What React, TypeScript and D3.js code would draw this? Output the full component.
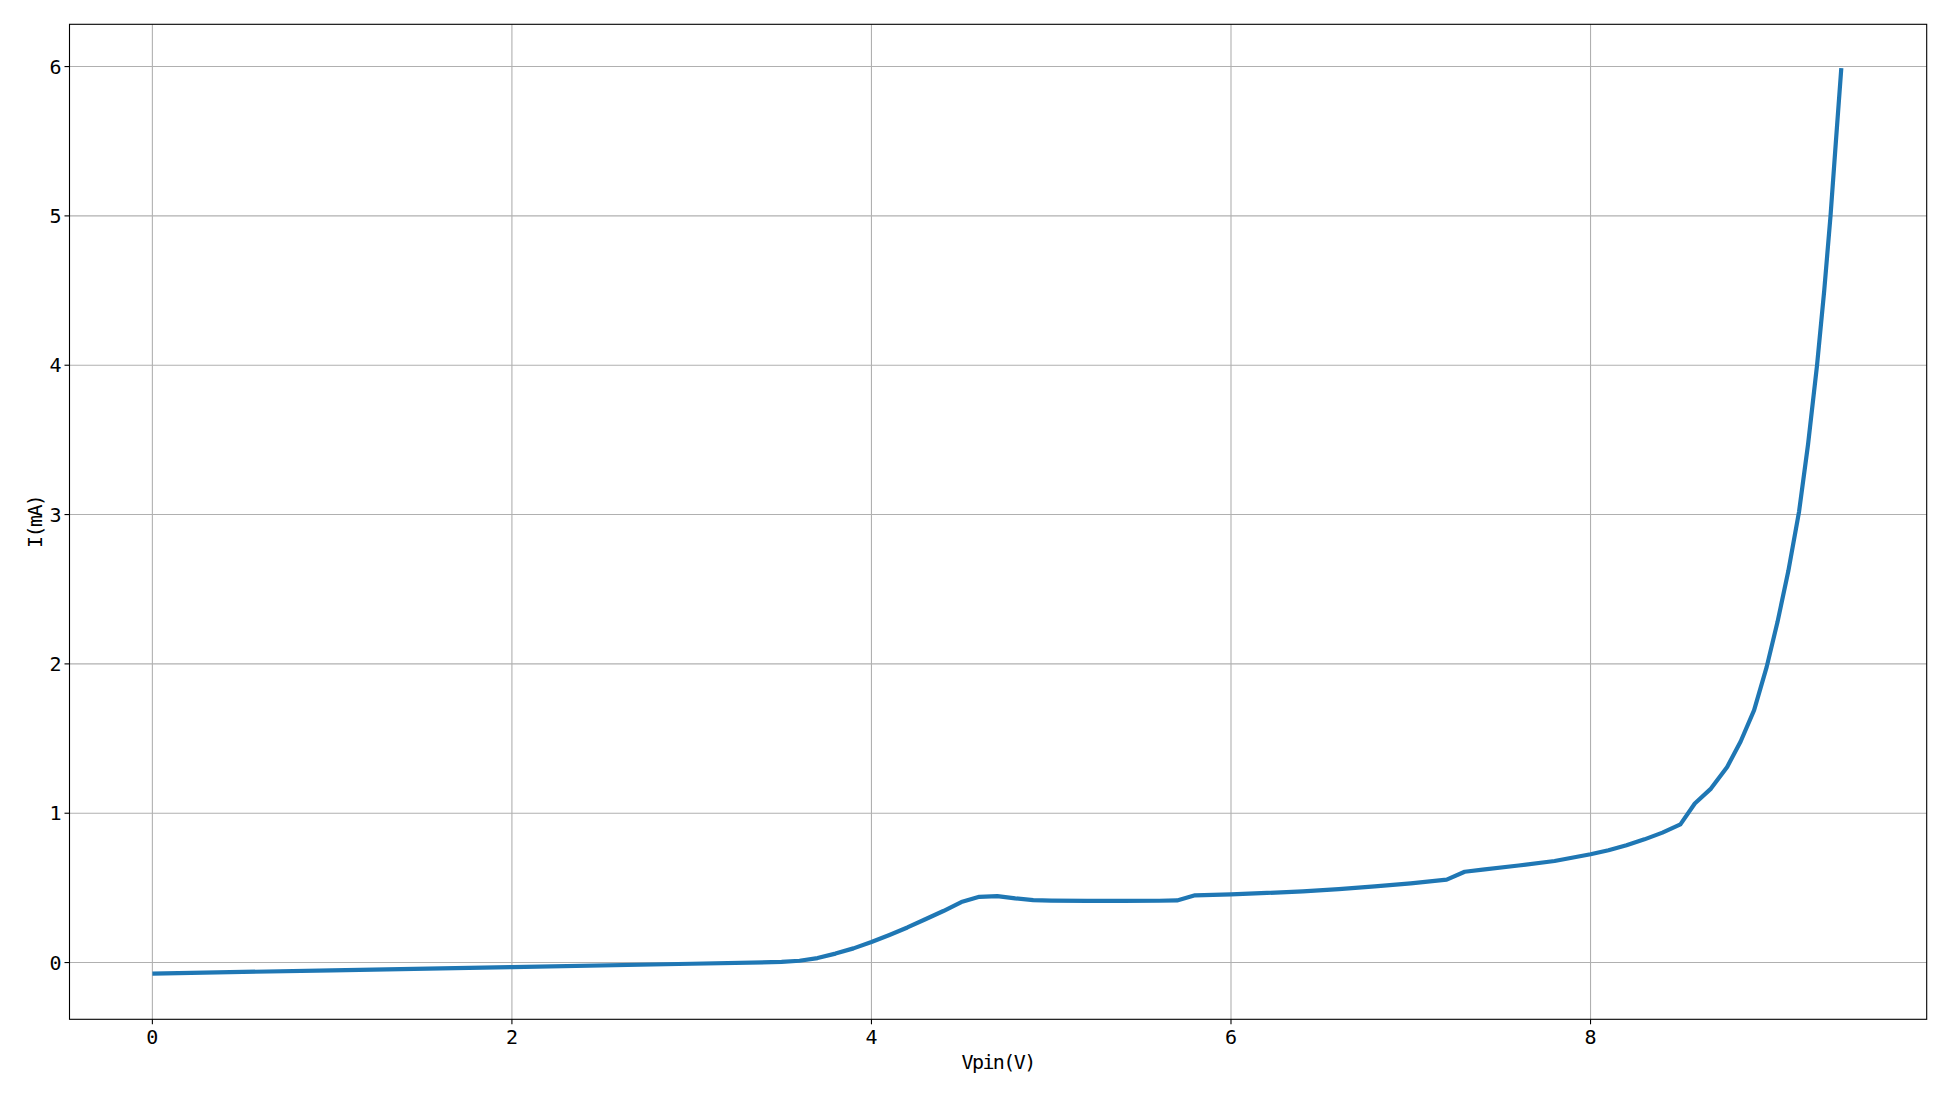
import React from "react";
import * as d3 from "d3";

const vpin: number[] = [
  0, 1, 2, 3, 3.5, 3.6, 3.7, 3.8, 3.9, 4.0, 4.1, 4.2, 4.3, 4.4, 4.5, 4.6, 4.7, 4.8, 4.9, 5.0,
  5.2, 5.4, 5.6, 5.7, 5.8, 6.0, 6.2, 6.4, 6.6, 6.8, 7.0, 7.2, 7.3, 7.4, 7.6, 7.8, 8.0, 8.1,
  8.2, 8.3, 8.4, 8.5, 8.58, 8.67, 8.76, 8.835, 8.91, 8.98, 9.04, 9.1, 9.16, 9.21, 9.26, 9.3,
  9.335, 9.365, 9.395,
];
const current: number[] = [
  -0.074, -0.052, -0.03, -0.008, 0.004, 0.012, 0.03, 0.06, 0.095, 0.138, 0.185, 0.235, 0.29,
  0.345, 0.405, 0.44, 0.445, 0.43, 0.418, 0.415, 0.413, 0.413, 0.414, 0.416, 0.45, 0.456,
  0.466, 0.477, 0.492, 0.51, 0.53, 0.555, 0.608, 0.622, 0.65, 0.68, 0.725, 0.752, 0.785, 0.825,
  0.87, 0.925, 1.065, 1.165, 1.31, 1.48, 1.69, 1.98, 2.28, 2.62, 3.02, 3.47, 4.0, 4.5, 5.0, 5.5,
  5.99,
];
const xTicks: number[] = [0, 2, 4, 6, 8];
const yTicks: number[] = [0, 1, 2, 3, 4, 5, 6];
const xLabel = "Vpin(V)";
const yLabel = "I(mA)";

const W = 1950;
const H = 1096;
const L = 69.5;
const R = 1926.7;
const T = 24.3;
const B = 1019.3;

export default function App() {
  const x = d3.scaleLinear().domain([-0.461, 9.870]).range([L, R]);
  const y = d3.scaleLinear().domain([-0.380, 6.283]).range([B, T]);
  const pts: [number, number][] = vpin.map((v, i) => [v, current[i]]);
  const line = d3
    .line<[number, number]>()
    .x((d) => x(d[0]))
    .y((d) => y(d[1]))
    .curve(d3.curveLinear);
  const font = "'DejaVu Sans Mono', 'Liberation Mono', monospace";

  return (
    <svg
      width={W}
      height={H}
      style={{ position: "absolute", left: 0, top: 0, background: "#fff" }}
      xmlns="http://www.w3.org/2000/svg"
    >
      <rect x={0} y={0} width={W} height={H} fill="#fff" />
      <defs>
        <clipPath id="plotclip">
          <rect x={L} y={T} width={R - L} height={B - T} />
        </clipPath>
      </defs>
      {xTicks.map((t) => (
        <line
          key={"gx" + t}
          x1={x(t)}
          x2={x(t)}
          y1={T}
          y2={B}
          stroke="#b0b0b0"
          strokeWidth={1.1}
        />
      ))}
      {yTicks.map((t) => (
        <line
          key={"gy" + t}
          x1={L}
          x2={R}
          y1={y(t)}
          y2={y(t)}
          stroke="#b0b0b0"
          strokeWidth={1.1}
        />
      ))}
      <path
        d={line(pts) || ""}
        fill="none"
        stroke="#1f77b4"
        strokeWidth={4.2}
        strokeLinejoin="round"
        strokeLinecap="butt"
        clipPath="url(#plotclip)"
      />
      <rect x={L} y={T} width={R - L} height={B - T} fill="none" stroke="#000" strokeWidth={1.1} />
      {xTicks.map((t) => (
        <g key={"tx" + t}>
          <line x1={x(t)} x2={x(t)} y1={B} y2={B + 5} stroke="#000" strokeWidth={1.1} />
          <text
            x={x(t)}
            y={B + 18}
            textAnchor="middle"
            dominantBaseline="central"
            fontFamily={font}
            fontSize={20}
            fill="#000"
          >
            {t}
          </text>
        </g>
      ))}
      {yTicks.map((t) => (
        <g key={"ty" + t}>
          <line x1={L - 5} x2={L} y1={y(t)} y2={y(t)} stroke="#000" strokeWidth={1.1} />
          <text
            x={L - 8}
            y={y(t)}
            textAnchor="end"
            dominantBaseline="central"
            fontFamily={font}
            fontSize={20}
            fill="#000"
          >
            {t}
          </text>
        </g>
      ))}
      <text
        x={(L + R) / 2}
        y={1062}
        textAnchor="middle"
        dominantBaseline="central"
        fontFamily={font}
        fontSize={20}
        letterSpacing={-1.6}
        fill="#000"
      >
        {xLabel}
      </text>
      <text
        transform={`translate(35, ${(T + B) / 2}) rotate(-90)`}
        textAnchor="middle"
        dominantBaseline="central"
        fontFamily={font}
        fontSize={20}
        letterSpacing={-1.6}
        fill="#000"
      >
        {yLabel}
      </text>
    </svg>
  );
}
